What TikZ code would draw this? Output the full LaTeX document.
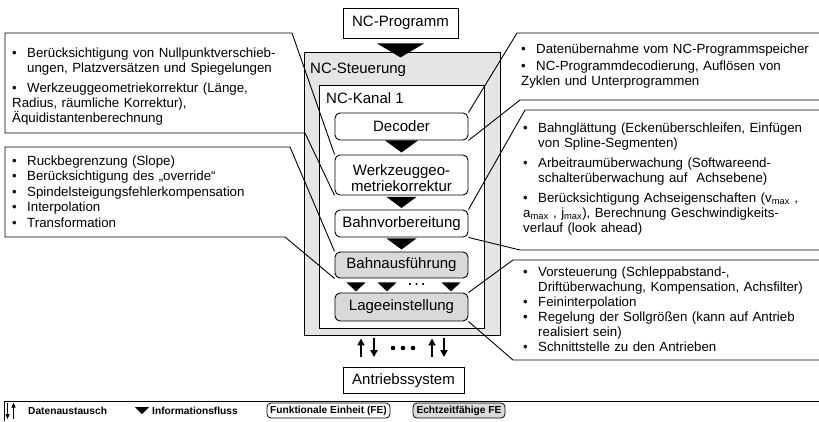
\documentclass[tikz,border=0pt]{standalone}
\usepackage{fontspec}
\setmainfont{Liberation Sans}
\usetikzlibrary{arrows.meta}

\definecolor{ncgray}{gray}{0.90}
\definecolor{rtgray}{gray}{0.85}

% bullet items with hanging indent
\newlength\itemgap
\newcommand\pnt{\hangindent=15pt\hangafter=1\noindent\makebox[15pt][l]{\textbullet}}
\newcommand\bul{\par\vskip\itemgap\pnt}
\newcommand\nl{\hfil\break}
% filled flow triangle: top centre, half width, height
\newcommand\flow[3]{\fill #1 ++(-#2,0) -- ++(2*#2,0) -- ++(-#2,#3) -- cycle;}

\begin{document}
\begin{tikzpicture}[x=1pt,y=-1pt,
  every node/.style={inner sep=0pt},
  unit/.style={draw, line width=0.9pt, font=\fontsize{15}{16.5}\selectfont, align=center},
  fe/.style={unit, rounded corners=5pt, fill=white, minimum width=133pt},
  rtfe/.style={fe, fill=rtgray},
  callout/.style={draw, line width=0.9pt},
  bullets/.style={anchor=north west, text width=295pt, font=\fontsize{13.3}{15}\selectfont,
    execute at begin node={\setlength{\parskip}{0pt}\setlength{\itemgap}{#1}}},
  bullets/.default=0pt,
  dat/.style={line width=1.8pt, -{Triangle[width=7pt,length=7pt]}},
  legend/.style={font=\fontsize{10.2}{12}\selectfont\bfseries}]
\useasboundingbox (0,0) rectangle (819,421);

% controller with channel
\node[unit, minimum width=115pt, minimum height=30pt] (prog) at (400.5,23) {NC-Programm};
\node[draw, line width=0.9pt, fill=ncgray, minimum width=196pt, minimum height=283pt] (steuerung) at (402,193.5) {};
\node[draw, line width=0.9pt, fill=white, minimum width=165pt, minimum height=243pt] (kanal) at (401.5,206.5) {};
\node[anchor=west, font=\fontsize{15}{16.5}\selectfont] (steuerung-label) at (310,70) {NC-Steuerung};
\node[anchor=west, font=\fontsize{15}{16.5}\selectfont] (kanal-label) at (326,98) {NC-Kanal 1};

\node[fe, minimum height=27pt] (decoder) at (401.5,126.5) {Decoder};
\node[fe, minimum height=40pt] (werkzeug) at (401.5,175) {\rule{0pt}{17pt}Werkzeuggeo-\\metriekorrektur};
\node[fe, minimum height=27pt] (bahnvor) at (401.5,223.5) {Bahnvorbereitung};
\node[rtfe, minimum height=26pt] (bahnaus) at (401.5,265) {Bahnausführung};
\node[rtfe, minimum height=28pt] (lage) at (401.5,307) {Lageeinstellung};
\node[unit, minimum width=121pt, minimum height=26pt] (antrieb) at (403.5,380.5) {Antriebssystem};

% information flow
\flow{([yshift=-5pt]prog.south)}{23.5}{14}
\flow{(decoder.south)}{16.5}{12}
\flow{([yshift=-1.5pt]werkzeug.south)}{15}{11}
\flow{([yshift=-1pt]bahnvor.south)}{15}{11}
\foreach \dx in {-45.5,-14.5,49.5}
  \flow{([xshift=\dx pt, yshift=-4pt]bahnaus.south)}{9.5}{9}
\foreach \x in {410,416.5,423}
  \fill (\x,284) circle (0.9);

% data exchange with the drives
\foreach \dx in {-42.5,28.5} {
  \coordinate (d) at ([xshift=\dx pt]antrieb.north);
  \draw[dat, shorten <=10pt, shorten >=3pt] (d) -- (d |- steuerung.south);
}
\foreach \dx in {-29.5,40.5} {
  \coordinate (d) at ([xshift=\dx pt]antrieb.north);
  \draw[dat, shorten <=3pt, shorten >=10pt] (d |- steuerung.south) -- (d);
}
\foreach \x in {393,403,413}
  \fill (\x,348) circle (2.3);

% callouts on the left
\draw[callout] (werkzeug.south west) -- (305,133) -- (5,133) -- (5,33) -- (292,33) -- (werkzeug.north west);
\node[bullets=5pt] (werkzeug-text) at (12,47.5) {%
  \pnt Berücksichtigung von Nullpunktverschieb-\nl ungen, Platzversätzen und Spiegelungen
  \bul Werkzeuggeometriekorrektur (Länge,\nl Radius, räumliche Korrektur),\nl Äquidistantenberechnung};

\draw[callout] (bahnaus.south west) -- (285,237) -- (5,237) -- (5,147) -- (290,147) -- (bahnaus.north west);
\node[bullets=0.5pt] (bahnaus-text) at (12,155.5) {%
  \pnt Ruckbegrenzung (Slope)
  \bul Berücksichtigung des „override“
  \bul Spindelsteigungsfehlerkompensation
  \bul Interpolation
  \bul Transformation};

% callouts on the right, open towards the page edge
\draw[callout] (819,33) -- (517,33) -- (decoder.north east);
\draw[callout] (819,100) -- (520,100) -- (decoder.south east);
\node[bullets=2pt] (decoder-text) at (521,43.5) {%
  \pnt Datenübernahme vom NC-Programmspeicher
  \bul NC-Programmdecodierung, Auflösen von\nl Zyklen und Unterprogrammen};

\draw[callout] (819,110) -- (525,110) -- (bahnvor.north east);
\draw[callout] (819,250) -- (520,250) -- (bahnvor.south east);
\node[bullets=5pt] (bahnvor-text) at (523,122.5) {%
  \pnt Bahnglättung (Eckenüberschleifen, Einfügen\nl von Spline-Segmenten)
  \bul Arbeitraumüberwachung (Softwareend-\nl schalterüberwachung auf~ Achsebene)
  \bul Berücksichtigung Achseigenschaften (v\textsubscript{max} ,\nl
    a\textsubscript{max} , j\textsubscript{max}), Berechnung Geschwindigkeits-\nl verlauf (look ahead)};

\draw[callout] (819,260) -- (513,260) -- (lage.north east);
\draw[callout] (819,360) -- (513,360) -- (lage.south east);
\node[bullets] (lage-text) at (523,267) {%
  \pnt Vorsteuerung (Schleppabstand-,\nl Driftüberwachung, Kompensation, Achsfilter)
  \bul Feininterpolation
  \bul Regelung der Sollgrößen (kann auf Antrieb\nl realisiert sein)
  \bul Schnittstelle zu den Antrieben};

% legend
\draw[line width=0.9pt] (819,401) -- (4,401) -- (4,421);
\draw[line width=0.8pt, -{Triangle[width=4pt,length=5pt]}] (7.5,402.5) -- (7.5,419);
\draw[line width=0.8pt, -{Triangle[width=4pt,length=5pt]}] (13.5,419) -- (13.5,402.5);
\node[legend, anchor=west] (leg-data) at (28,411) {Datenaustausch};
\flow{(142,407)}{7}{7}
\node[legend, anchor=west] (leg-flow) at (152,411) {Informationsfluss};
\node[legend, draw, line width=0.8pt, rounded corners=4pt, fill=white, minimum width=123pt, minimum height=15pt] (leg-fe) at (328.5,410.5) {Funktionale Einheit (FE)};
\node[legend, draw, line width=0.8pt, rounded corners=4pt, fill=rtgray, minimum width=92pt, minimum height=15pt] (leg-rtfe) at (459,410.5) {Echtzeitfähige FE};
\end{tikzpicture}
\end{document}
